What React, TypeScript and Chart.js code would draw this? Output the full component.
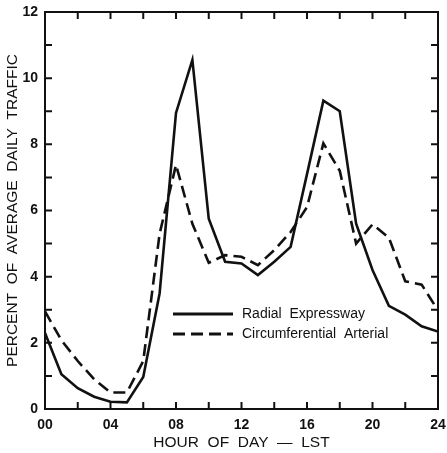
import React, { useEffect, useRef } from "react";
import { Chart, registerables } from "chart.js";

Chart.register(...registerables);

const hours = [0, 1, 2, 3, 4, 5, 6, 7, 8, 9, 10, 11, 12, 13, 14, 15, 16, 17, 18, 19, 20, 21, 22, 23, 24];
const radialExpressway = [2.3, 1.05, 0.63, 0.37, 0.22, 0.2, 0.97, 3.5, 8.95, 10.55, 5.75, 4.45, 4.4, 4.05, 4.45, 4.9, 7.1, 9.32, 9.0, 5.6, 4.2, 3.12, 2.85, 2.5, 2.34];
const circumferentialArterial = [2.95, 2.08, 1.45, 0.9, 0.5, 0.5, 1.45, 5.3, 7.38, 5.6, 4.42, 4.65, 4.6, 4.35, 4.8, 5.35, 6.1, 8.03, 7.2, 5.0, 5.58, 5.18, 3.86, 3.76, 2.98];
const seriesLabels = ["Radial  Expressway", "Circumferential  Arterial"];
const xTickStep = 2;
const xLabelEvery = 4;
const yTickStep = 1;
const yLabelEvery = 2;
const xTitle = "HOUR  OF  DAY  \u2014  LST";
const yTitle = "PERCENT  OF  AVERAGE  DAILY  TRAFFIC";

const FONT = "'Liberation Sans', Arial, Helvetica, sans-serif";

const framePlugin = {
  id: "frameTicks",
  afterDraw(chart: any) {
    const { ctx, chartArea } = chart;
    const xs = chart.scales.x;
    const ys = chart.scales.y;
    const len = 7;
    ctx.save();
    ctx.strokeStyle = "#111";
    ctx.lineWidth = 2;
    ctx.strokeRect(chartArea.left, chartArea.top, chartArea.right - chartArea.left, chartArea.bottom - chartArea.top);
    ctx.beginPath();
    xs.ticks.forEach((t: any) => {
      const px = xs.getPixelForValue(t.value);
      ctx.moveTo(px, chartArea.bottom);
      ctx.lineTo(px, chartArea.bottom - len);
      ctx.moveTo(px, chartArea.top);
      ctx.lineTo(px, chartArea.top + len);
    });
    ys.ticks.forEach((t: any) => {
      const py = ys.getPixelForValue(t.value);
      ctx.moveTo(chartArea.left, py);
      ctx.lineTo(chartArea.left + len, py);
      ctx.moveTo(chartArea.right, py);
      ctx.lineTo(chartArea.right - len, py);
    });
    ctx.stroke();
    ctx.restore();
  },
};

const legendPlugin = {
  id: "innerLegend",
  afterDatasetsDraw(chart: any) {
    const { ctx, chartArea } = chart;
    const x0 = chartArea.left + 128;
    const y0 = chartArea.top + 302;
    const rowH = 20;
    const lineLen = 60;
    ctx.save();
    chart.data.datasets.forEach((ds: any, i: number) => {
      const y = y0 + i * rowH;
      ctx.beginPath();
      ctx.strokeStyle = ds.borderColor;
      ctx.lineWidth = 3;
      ctx.setLineDash(ds.borderDash || []);
      ctx.moveTo(x0, y);
      ctx.lineTo(x0 + lineLen, y);
      ctx.stroke();
      ctx.setLineDash([]);
      ctx.fillStyle = "#111";
      ctx.font = `14px ${FONT}`;
      ctx.textBaseline = "middle";
      ctx.textAlign = "left";
      ctx.fillText(ds.label, x0 + lineLen + 9, y);
    });
    ctx.restore();
  },
};

export default function App() {
  const canvasRef = useRef<HTMLCanvasElement | null>(null);

  useEffect(() => {
    document.body.style.margin = "0";
    const canvas = canvasRef.current;
    if (!canvas) return;
    const chart = new Chart(canvas, {
      type: "line",
      data: {
        labels: hours,
        datasets: [
          {
            label: seriesLabels[0],
            data: hours.map((h, i) => ({ x: h, y: radialExpressway[i] })),
            borderColor: "#111",
            borderWidth: 2.6,
            pointRadius: 0,
            tension: 0,
            fill: false,
          },
          {
            label: seriesLabels[1],
            data: hours.map((h, i) => ({ x: h, y: circumferentialArterial[i] })),
            borderColor: "#111",
            borderWidth: 2.6,
            borderDash: [12, 6],
            pointRadius: 0,
            tension: 0,
            fill: false,
          },
        ],
      },
      options: {
        animation: false,
        responsive: false,
        devicePixelRatio: 1,
        layout: { padding: { top: 12, right: 9, left: 0, bottom: 0 } },
        plugins: {
          legend: { display: false },
          tooltip: { enabled: false },
        },
        scales: {
          x: {
            type: "linear",
            min: 0,
            max: 24,
            grid: { display: false, drawTicks: false },
            border: { display: false },
            ticks: {
              stepSize: xTickStep,
              autoSkip: false,
              maxRotation: 0,
              padding: 8,
              color: "#111",
              font: { family: FONT, size: 14, weight: "bold" },
              callback: (v: any) => (Number(v) % xLabelEvery === 0 ? String(v).padStart(2, "0") : ""),
            },
            title: {
              display: true,
              text: xTitle,
              color: "#111",
              font: { family: FONT, size: 15.5 },
              padding: { top: 0, bottom: 1 },
            },
            afterFit: (s: any) => {
              s.height = 44;
              s.paddingLeft = 0;
              s.paddingRight = 0;
            },
          },
          y: {
            type: "linear",
            min: 0,
            max: 12,
            grid: { display: false, drawTicks: false },
            border: { display: false },
            ticks: {
              stepSize: yTickStep,
              autoSkip: false,
              padding: 7,
              color: "#111",
              font: { family: FONT, size: 14, weight: "bold" },
              callback: (v: any) => (Number(v) % yLabelEvery === 0 ? String(v) : ""),
            },
            title: {
              display: true,
              text: yTitle,
              color: "#111",
              font: { family: FONT, size: 15.5 },
              padding: { top: 3, bottom: 0 },
            },
            afterFit: (s: any) => {
              s.width = 45;
              s.paddingTop = 0;
              s.paddingBottom = 0;
            },
          },
        },
      },
      plugins: [framePlugin, legendPlugin],
    });
    return () => chart.destroy();
  }, []);

  return (
    <div style={{ width: 447, height: 453, background: "#fff" }}>
      <canvas ref={canvasRef} width={447} height={453} style={{ display: "block" }} />
    </div>
  );
}
